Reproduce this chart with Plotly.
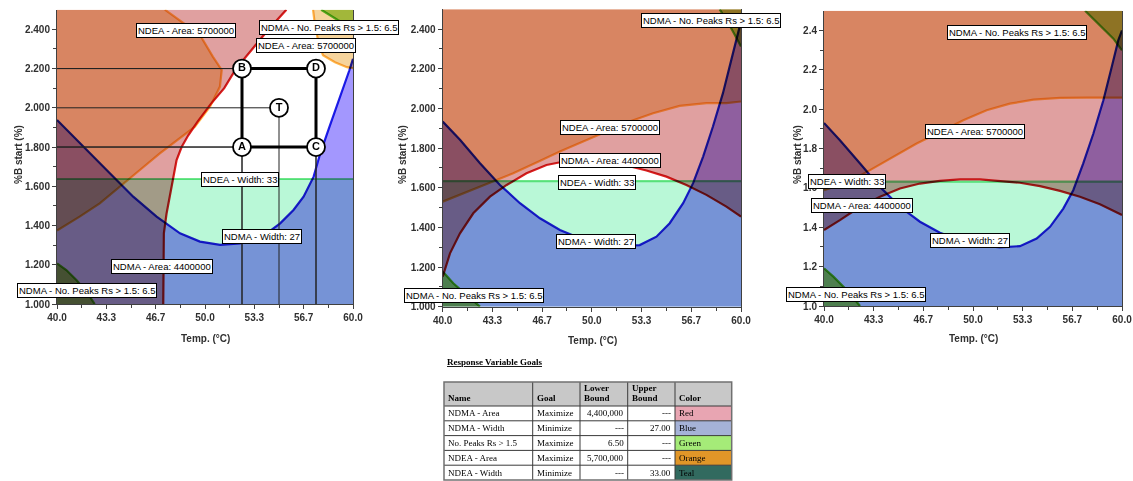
import plotly.graph_objects as go

# ---------------- data ----------------
X_TICKS = [40.0, 43.333, 46.667, 50.0, 53.333, 56.667, 60.0]
X_TICK_TEXT = ["40.0", "43.3", "46.7", "50.0", "53.3", "56.7", "60.0"]
X_MINOR = [41.667, 45.0, 48.333, 51.667, 55.0, 58.333]
Y_TICKS = [1.0, 1.2, 1.4, 1.6, 1.8, 2.0, 2.2, 2.4]
Y_TICK_TEXT_3DEC = ["1.000", "1.200", "1.400", "1.600", "1.800", "2.000", "2.200", "2.400"]
Y_TICK_TEXT_1DEC = ["1.0", "1.2", "1.4", "1.6", "1.8", "2.0", "2.2", "2.4"]
Y_MINOR = [1.1, 1.3, 1.5, 1.7, 1.9, 2.1, 2.3]
X_RANGE = [40.0, 60.0]
Y_RANGE = [1.0, 2.5]

# NDEA - Width = 33 boundary (%B start) per panel
TEAL_LIMIT = [1.637, 1.633, 1.632]

# ---- panel 1 ----
P1_RED_X = [47.18, 47.18, 47.22, 47.40, 47.63, 47.81, 48.08, 48.42, 48.87, 49.5, 50.4, 51.3, 52.1, 53.2, 54.3, 55.5]
P1_RED_Y = [1.00, 1.19, 1.36, 1.46, 1.55, 1.632, 1.734, 1.80, 1.86, 1.93, 2.02, 2.10, 2.20, 2.30, 2.40, 2.50]
P1_ORANGE_X = [47.29, 48.76, 49.66, 50.54, 51.13, 51.01, 50.34, 49.32, 48.30, 46.95, 45.60, 44.24, 42.89, 41.53, 40.00]
P1_ORANGE_Y = [2.50, 2.422, 2.371, 2.260, 2.193, 2.108, 2.006, 1.904, 1.845, 1.768, 1.683, 1.598, 1.513, 1.445, 1.374]
P1_ORANGE2_X = [57.30, 57.43, 57.64, 57.97, 58.78, 59.59, 60.0]
P1_ORANGE2_Y = [2.50, 2.421, 2.345, 2.268, 2.232, 2.207, 2.202]
P1_BLUE_X = [40.0, 41.76, 43.57, 45.15, 46.73, 48.31, 49.66, 51.02, 52.37, 53.72, 55.08, 55.98, 56.66, 57.34, 57.79, 58.35, 58.92, 59.40, 59.75, 60.0]
P1_BLUE_Y = [1.938, 1.802, 1.666, 1.547, 1.445, 1.360, 1.318, 1.301, 1.309, 1.335, 1.411, 1.479, 1.547, 1.649, 1.768, 1.89, 2.01, 2.12, 2.19, 2.25]
P1_GREEN_X = [40.0, 40.63, 41.31, 41.99, 42.55]
P1_GREEN_Y = [1.207, 1.173, 1.122, 1.063, 1.0]
P1_GREEN2_X = [57.85, 58.45, 58.99, 59.59, 60.0]
P1_GREEN2_Y = [2.50, 2.472, 2.446, 2.426, 2.416]

# design points (panel 1)
DESIGN_LABELS = ["A", "B", "C", "D", "T"]
DESIGN_TEMP = [52.5, 52.5, 57.5, 57.5, 55.0]
DESIGN_B = [1.8, 2.2, 1.8, 2.2, 2.0]

# ---- panel 2 ----
P2_RED_X = [40.0, 40.49, 41.16, 42.05, 43.17, 44.29, 45.62, 46.96, 48.30, 49.64, 50.98, 52.32, 53.66, 55.0, 56.34, 57.68, 59.02, 60.0]
P2_RED_Y = [1.151, 1.269, 1.370, 1.471, 1.555, 1.614, 1.673, 1.715, 1.735, 1.741, 1.732, 1.712, 1.687, 1.656, 1.614, 1.564, 1.505, 1.454]
P2_ORANGE_X = [40.0, 41.38, 43.17, 44.73, 46.29, 47.86, 49.42, 50.98, 52.54, 54.11, 55.89, 57.68, 59.02, 60.0]
P2_ORANGE_Y = [1.530, 1.572, 1.626, 1.673, 1.727, 1.783, 1.833, 1.884, 1.934, 1.976, 2.013, 2.027, 2.027, 2.035]
P2_BLUE_X = [40.0, 41.16, 42.50, 43.84, 45.18, 46.52, 47.86, 49.20, 50.54, 51.87, 53.21, 54.33, 55.22, 56.12, 56.79, 57.46, 58.12, 58.79, 59.35, 59.80, 60.0]
P2_BLUE_Y = [1.934, 1.842, 1.724, 1.614, 1.522, 1.446, 1.387, 1.345, 1.320, 1.306, 1.311, 1.353, 1.421, 1.522, 1.623, 1.757, 1.909, 2.077, 2.245, 2.380, 2.439]
P2_GREEN_X = [40.0, 40.71, 41.61, 42.50]
P2_GREEN_Y = [1.177, 1.118, 1.059, 1.0]
P2_GREEN2_X = [58.57, 59.02, 59.46, 60.0]
P2_GREEN2_Y = [2.50, 2.447, 2.388, 2.313]

# ---- panel 3 ----
P3_RED_X = [40.0, 41.07, 42.42, 43.76, 45.10, 46.44, 47.78, 49.13, 50.47, 51.81, 53.15, 54.50, 55.84, 57.18, 58.52, 60.0]
P3_RED_Y = [1.386, 1.436, 1.504, 1.555, 1.597, 1.622, 1.636, 1.643, 1.643, 1.636, 1.626, 1.609, 1.585, 1.555, 1.517, 1.462]
P3_ORANGE_X = [40.0, 41.52, 43.09, 44.65, 46.22, 47.78, 49.35, 50.92, 52.48, 54.05, 55.84, 57.63, 60.0]
P3_ORANGE_Y = [1.588, 1.626, 1.690, 1.757, 1.825, 1.884, 1.943, 1.994, 2.028, 2.048, 2.057, 2.058, 2.058]
P3_BLUE_X = [40.0, 41.07, 42.42, 43.76, 45.10, 46.44, 47.78, 49.13, 50.47, 51.81, 53.15, 54.27, 55.17, 56.06, 56.73, 57.40, 58.08, 58.75, 59.31, 59.75, 60.0]
P3_BLUE_Y = [1.930, 1.842, 1.724, 1.605, 1.504, 1.428, 1.372, 1.335, 1.309, 1.298, 1.304, 1.343, 1.402, 1.495, 1.588, 1.724, 1.876, 2.045, 2.214, 2.349, 2.400]
P3_GREEN_X = [40.0, 40.63, 41.52, 42.42]
P3_GREEN_Y = [1.191, 1.149, 1.081, 1.0]
P3_GREEN2_X = [57.52, 58.08, 58.75, 59.42, 60.0]
P3_GREEN2_Y = [2.50, 2.459, 2.408, 2.358, 2.299]

# contour labels: (text, temp, %B) per panel
LBL_NDEA_AREA = "NDEA - Area: 5700000"
LBL_NDMA_AREA = "NDMA - Area: 4400000"
LBL_NDEA_W = "NDEA - Width: 33"
LBL_NDMA_W = "NDMA - Width: 27"
LBL_PEAKS = "NDMA - No. Peaks Rs > 1.5: 6.5"
P1_LABELS = [(LBL_NDEA_AREA, 48.72, 2.394), (LBL_PEAKS, 58.41, 2.407), (LBL_NDEA_AREA, 56.82, 2.318),
             (LBL_NDEA_W, 52.37, 1.637), (LBL_NDMA_W, 53.82, 1.344), (LBL_NDMA_AREA, 47.09, 1.191),
             (LBL_PEAKS, 42.03, 1.069)]
P2_LABELS = [(LBL_PEAKS, 57.99, 2.445), (LBL_NDEA_AREA, 51.25, 1.902), (LBL_NDMA_AREA, 51.22, 1.738),
             (LBL_NDEA_W, 50.35, 1.627), (LBL_NDMA_W, 50.28, 1.327), (LBL_PEAKS, 42.10, 1.057)]
P3_LABELS = [(LBL_PEAKS, 52.95, 2.390), (LBL_NDEA_AREA, 50.13, 1.885), (LBL_NDEA_W, 41.51, 1.632),
             (LBL_NDMA_AREA, 42.58, 1.512), (LBL_NDMA_W, 49.80, 1.335), (LBL_PEAKS, 42.15, 1.056)]

# goals table
TBL_HEADER = [["Name"], ["Goal"], ["Lower", "Bound"], ["Upper", "Bound"], ["Color"]]
TBL_NAME = ["NDMA - Area", "NDMA - Width", "No. Peaks Rs > 1.5", "NDEA - Area", "NDEA - Width"]
TBL_GOAL = ["Maximize", "Minimize", "Maximize", "Maximize", "Minimize"]
TBL_LOWER = ["4,400,000", "---", "6.50", "5,700,000", "---"]
TBL_UPPER = ["---", "27.00", "---", "---", "33.00"]
TBL_COLOR = ["Red", "Blue", "Green", "Orange", "Teal"]
TBL_SWATCH = ["#E8A5B2", "#A5B2D7", "#A5EB78", "#E19628", "#326A5F"]

# ---------------- styling ----------------
W, H = 1133, 481
SANS = "Liberation Sans, Arial, sans-serif"
SERIF = "Liberation Serif, Times New Roman, serif"
RED_FILL, ORANGE_FILL, BLUE_FILL, TEAL_FILL, GREEN_FILL = "#E0A0A0", "#F6D49C", "#A397FE", "#B9F8D7", "#A8DC5E"
RED_LINE, ORANGE_LINE, BLUE_LINE, TEAL_LINE, GREEN_LINE = "#DC1E1E", "#FFB84A", "#2020E6", "#6EE68A", "#5CC828"

# table geometry (pixels)
TBL_COLS = [444, 532.7, 580, 627.7, 675, 731.7]
TBL_ROWS = [382, 406, 420.8, 435.6, 450.4, 465.2, 480]
TBL_ALIGN = ["left", "left", "right", "right", "left"]


def px(x):
    return x / W


def py(y):
    return 1 - y / H


fig = go.Figure()


def add_fill(x, y, color, ax):
    fig.add_trace(go.Scatter(x=x, y=y, fill="toself", fillcolor=color, mode="lines",
                             line=dict(width=0, color=color), meta="blend", hoverinfo="skip",
                             showlegend=False, xaxis="x" + ax, yaxis="y" + ax))


def add_line(x, y, color, ax, width=2.2):
    fig.add_trace(go.Scatter(x=x, y=y, mode="lines", line=dict(width=width, color=color),
                             meta="blend", hoverinfo="skip", showlegend=False,
                             xaxis="x" + ax, yaxis="y" + ax))


x0, x1 = X_RANGE
y0, y1 = Y_RANGE

# ---- panel 1 regions ----
ax = ""
add_fill([x0, x1, x1, x0], [y0, y0, TEAL_LIMIT[0], TEAL_LIMIT[0]], TEAL_FILL, ax)
add_fill(P1_RED_X + [x0, x0], P1_RED_Y + [y1, y0], RED_FILL, ax)
add_fill(P1_ORANGE_X + [x0], P1_ORANGE_Y + [y1], ORANGE_FILL, ax)
add_fill(P1_ORANGE2_X + [x1], P1_ORANGE2_Y + [y1], ORANGE_FILL, ax)
add_fill(P1_BLUE_X + [x1, x0], P1_BLUE_Y + [y0, y0], BLUE_FILL, ax)
add_fill(P1_GREEN_X + [x0], P1_GREEN_Y + [y0], GREEN_FILL, ax)
add_fill(P1_GREEN2_X + [x1], P1_GREEN2_Y + [y1], GREEN_FILL, ax)
add_line([x0, x1], [TEAL_LIMIT[0], TEAL_LIMIT[0]], TEAL_LINE, ax)
add_line(P1_RED_X, P1_RED_Y, RED_LINE, ax)
add_line(P1_ORANGE_X, P1_ORANGE_Y, ORANGE_LINE, ax)
add_line(P1_ORANGE2_X, P1_ORANGE2_Y, ORANGE_LINE, ax)
add_line(P1_BLUE_X, P1_BLUE_Y, BLUE_LINE, ax)
add_line(P1_GREEN_X, P1_GREEN_Y, GREEN_LINE, ax)
add_line(P1_GREEN2_X, P1_GREEN2_Y, GREEN_LINE, ax)

# design-point guide lines
gx, gy = [], []
for t, b in zip(DESIGN_TEMP, DESIGN_B):
    gx += [x0, t, None, t, t, None]
    gy += [b, b, None, b, y0, None]
fig.add_trace(go.Scatter(x=gx, y=gy, mode="lines", line=dict(color="#222222", width=1),
                         hoverinfo="skip", showlegend=False, xaxis="x", yaxis="y"))
sq = [0, 1, 3, 2, 0]  # A-B-D-C-A
fig.add_trace(go.Scatter(x=[DESIGN_TEMP[i] for i in sq], y=[DESIGN_B[i] for i in sq], mode="lines",
                         line=dict(color="black", width=3), hoverinfo="skip", showlegend=False,
                         xaxis="x", yaxis="y"))
fig.add_trace(go.Scatter(x=DESIGN_TEMP, y=DESIGN_B, mode="markers+text", text=DESIGN_LABELS,
                         textposition="middle center",
                         textfont=dict(family=SANS, size=11, color="black", weight="bold"),
                         marker=dict(size=18, color="white", line=dict(color="black", width=1.8)),
                         hoverinfo="skip", showlegend=False, xaxis="x", yaxis="y"))

# ---- panel 2 & 3 regions ----
for ax, red, ora, blu, grn, grn2, teal in [
    ("2", (P2_RED_X, P2_RED_Y), (P2_ORANGE_X, P2_ORANGE_Y), (P2_BLUE_X, P2_BLUE_Y),
     (P2_GREEN_X, P2_GREEN_Y), (P2_GREEN2_X, P2_GREEN2_Y), TEAL_LIMIT[1]),
    ("3", (P3_RED_X, P3_RED_Y), (P3_ORANGE_X, P3_ORANGE_Y), (P3_BLUE_X, P3_BLUE_Y),
     (P3_GREEN_X, P3_GREEN_Y), (P3_GREEN2_X, P3_GREEN2_Y), TEAL_LIMIT[2])]:
    add_fill([x0, x1, x1, x0], [y0, y0, teal, teal], TEAL_FILL, ax)
    add_fill(red[0] + [x1, x0], red[1] + [y1, y1], RED_FILL, ax)
    add_fill(ora[0] + [x1, x0], ora[1] + [y1, y1], ORANGE_FILL, ax)
    add_fill(blu[0] + [x1, x0], blu[1] + [y0, y0], BLUE_FILL, ax)
    add_fill(grn[0] + [x0], grn[1] + [y0], GREEN_FILL, ax)
    add_fill(grn2[0] + [x1], grn2[1] + [y1], GREEN_FILL, ax)
    add_line([x0, x1], [teal, teal], TEAL_LINE, ax)
    add_line(red[0], red[1], RED_LINE, ax)
    add_line(ora[0], ora[1], ORANGE_LINE, ax)
    add_line(blu[0], blu[1], BLUE_LINE, ax)
    add_line(grn[0], grn[1], GREEN_LINE, ax)
    add_line(grn2[0], grn2[1], GREEN_LINE, ax)

# ---------------- annotations ----------------
annotations = []
for ax, labels in [("", P1_LABELS), ("2", P2_LABELS), ("3", P3_LABELS)]:
    for txt, lx, ly in labels:
        annotations.append(dict(x=lx, y=ly, xref="x" + ax, yref="y" + ax, text=txt, showarrow=False,
                                bgcolor="white", bordercolor="black", borderwidth=1, borderpad=1,
                                font=dict(family=SANS, size=9.5, color="black")))

# y-axis titles
for xc, yc in [(18, 155), (402, 155), (797, 155)]:
    annotations.append(dict(x=px(xc), y=py(yc), xref="paper", yref="paper", text="%B start (%)",
                            textangle=-90, showarrow=False, xanchor="center", yanchor="middle",
                            font=dict(family=SANS, size=10, color="#303030", weight="bold")))
# x-axis titles
for xc, yc in [(205, 338), (592, 340), (973, 338)]:
    annotations.append(dict(x=px(xc), y=py(yc), xref="paper", yref="paper", text="Temp. (°C)",
                            showarrow=False, xanchor="center", yanchor="middle",
                            font=dict(family=SANS, size=10, color="#303030", weight="bold")))

annotations.append(dict(x=px(445), y=py(362), xref="paper", yref="paper",
                        xanchor="left", yanchor="middle", showarrow=False,
                        text="<b><u>Response Variable Goals</u></b>",
                        font=dict(family=SERIF, size=9, color="black")))

# ---------------- table (shapes + text) ----------------
shapes = []
shapes.append(dict(type="rect", xref="paper", yref="paper", x0=px(TBL_COLS[0]), x1=px(TBL_COLS[-1]),
                   y0=py(TBL_ROWS[1]), y1=py(TBL_ROWS[0]), fillcolor="#C8C8C8", line=dict(width=0)))
for r, sw in enumerate(TBL_SWATCH):
    shapes.append(dict(type="rect", xref="paper", yref="paper", x0=px(TBL_COLS[4]), x1=px(TBL_COLS[5]),
                       y0=py(TBL_ROWS[r + 2]), y1=py(TBL_ROWS[r + 1]), fillcolor=sw, line=dict(width=0)))
for c in TBL_COLS[1:-1]:
    shapes.append(dict(type="line", xref="paper", yref="paper", x0=px(c), x1=px(c),
                       y0=py(TBL_ROWS[-1]), y1=py(TBL_ROWS[0]), line=dict(color="#3A3A3A", width=1)))
for rr in TBL_ROWS[1:-1]:
    shapes.append(dict(type="line", xref="paper", yref="paper", x0=px(TBL_COLS[0]), x1=px(TBL_COLS[-1]),
                       y0=py(rr), y1=py(rr), line=dict(color="#3A3A3A", width=1)))
shapes.append(dict(type="rect", xref="paper", yref="paper", x0=px(TBL_COLS[0]), x1=px(TBL_COLS[-1]),
                   y0=py(TBL_ROWS[-1]), y1=py(TBL_ROWS[0]), line=dict(color="#707070", width=1.5)))

for ci, hdr in enumerate(TBL_HEADER):
    lines = hdr if len(hdr) == 2 else [""] + hdr
    for li, t in enumerate(lines):
        if not t:
            continue
        annotations.append(dict(x=px(TBL_COLS[ci] + 2), y=py(388 + 10 * li), xref="paper", yref="paper",
                                xanchor="left", yanchor="middle", showarrow=False, text="<b>" + t + "</b>",
                                font=dict(family=SERIF, size=9, color="black")))

for ci, col in enumerate([TBL_NAME, TBL_GOAL, TBL_LOWER, TBL_UPPER, TBL_COLOR]):
    for ri, t in enumerate(col):
        yc = (TBL_ROWS[ri + 1] + TBL_ROWS[ri + 2]) / 2
        if TBL_ALIGN[ci] == "left":
            xa, xx = "left", TBL_COLS[ci] + 2
        else:
            xa, xx = "right", TBL_COLS[ci + 1] - 2
        annotations.append(dict(x=px(xx), y=py(yc), xref="paper", yref="paper", xanchor=xa,
                                yanchor="middle", showarrow=False, text=t,
                                font=dict(family=SERIF, size=9, color="black")))


# ---------------- axes ----------------
def xaxis(domain, anchor):
    return dict(domain=domain, anchor=anchor, range=X_RANGE, tickvals=X_TICKS, ticktext=X_TICK_TEXT,
                automargin=False, showgrid=False, zeroline=False, showline=True,
                linecolor="#404040", linewidth=1, ticks="outside", ticklen=4, tickcolor="#404040",
                minor=dict(tickvals=X_MINOR, ticks="outside", ticklen=3, tickcolor="#404040"),
                tickfont=dict(family=SANS, size=10, color="#303030", weight="bold"))


def yaxis(domain, anchor, ticktext):
    return dict(domain=domain, anchor=anchor, range=Y_RANGE, tickvals=Y_TICKS, ticktext=ticktext,
                automargin=False, showgrid=False, zeroline=False, showline=True, mirror=True,
                linecolor="#404040", linewidth=1, ticks="outside", ticklen=4, tickcolor="#404040",
                minor=dict(tickvals=Y_MINOR, ticks="outside", ticklen=3, tickcolor="#404040"),
                tickfont=dict(family=SANS, size=10, color="#303030", weight="bold"))


fig.update_layout(
    width=W, height=H, margin=dict(l=0, r=0, t=0, b=0, autoexpand=False),
    paper_bgcolor="white", plot_bgcolor="white", showlegend=False,
    xaxis=xaxis([px(57), px(353)], "y"),
    yaxis=yaxis([py(304), py(9.7)], "x", Y_TICK_TEXT_3DEC),
    xaxis2=xaxis([px(442.7), px(741)], "y2"),
    yaxis2=yaxis([py(306.7), py(9.3)], "x2", Y_TICK_TEXT_3DEC),
    xaxis3=xaxis([px(824), px(1122)], "y3"),
    yaxis3=yaxis([py(306), py(10.7)], "x3", Y_TICK_TEXT_1DEC),
    annotations=annotations,
    shapes=shapes,
)

# the response-surface overlay mixes its layers multiplicatively
POST = """
var gd = document.getElementById('{plot_id}');
gd.querySelectorAll('g.trace.scatter').forEach(function(g){
  var d = g.__data__; var tr = d && d[0] && d[0].trace;
  if (tr && tr.meta === 'blend') {
    g.querySelectorAll('path').forEach(function(p){ p.style.mixBlendMode = 'multiply'; });
  }
});
"""

fig.write_html("out.html", config={"displayModeBar": False}, post_script=POST)
